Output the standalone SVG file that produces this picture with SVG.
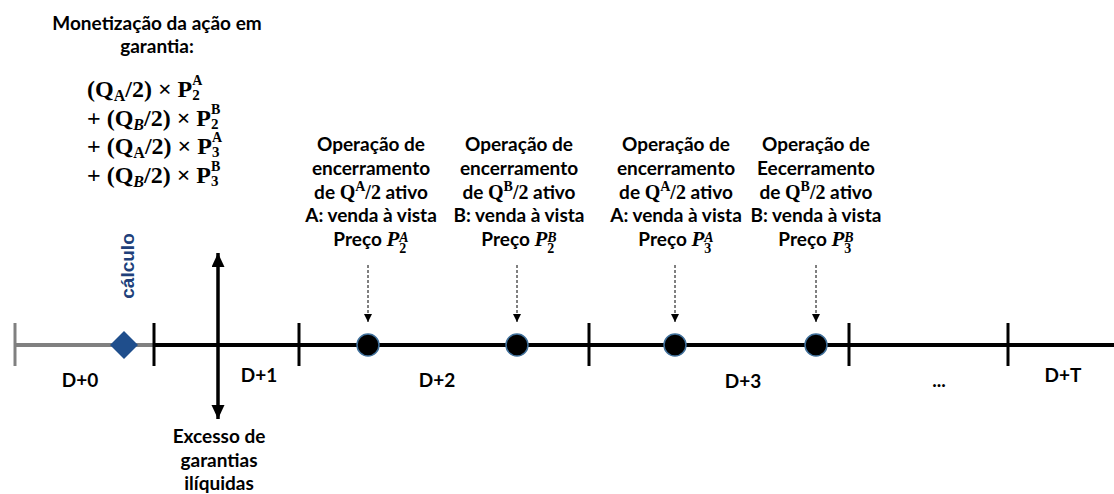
<svg xmlns="http://www.w3.org/2000/svg" width="1114" height="494" viewBox="0 0 1114 494">
<style>
.t{font-family:Lato,"Open Sans",sans-serif;font-weight:bold;font-size:19px;fill:#000}
.m{font-family:"Liberation Serif","DejaVu Serif",serif;font-weight:bold}
.mi{font-family:"Liberation Serif","DejaVu Serif",serif;font-weight:bold;font-style:italic}
.eq{font-family:"Liberation Serif","DejaVu Serif",serif;font-weight:bold;font-size:24px;fill:#000}
.tick{stroke:#000;stroke-width:3}
.dash{stroke:#000;stroke-width:1;stroke-dasharray:3 2;fill:none}
.dot{fill:#000;stroke:#41719C;stroke-width:1.5}
</style>
<defs>
<marker id="ah" markerUnits="userSpaceOnUse" markerWidth="8" markerHeight="10" refX="8" refY="4" orient="auto"><path d="M0,0 L8,4 L0,8 z" fill="#000"/></marker>
<marker id="big" markerUnits="userSpaceOnUse" markerWidth="15" markerHeight="14" refX="14" refY="6.5" orient="auto-start-reverse"><path d="M0,0 L14,6.5 L0,13 z" fill="#000"/></marker>
</defs>

<g id="heading">
<text class="t" x="157" y="30" text-anchor="middle">Monetização da ação em</text>
<text class="t" x="157" y="53" text-anchor="middle">garantia:</text>
</g>
<g id="formula">
<text class="eq" x="87" y="97">(Q<tspan font-size="16" dy="4">A</tspan><tspan dy="-4">/2) × P</tspan><tspan font-size="15" dy="3">2</tspan><tspan font-size="14" dx="-7.5" dy="-15">A</tspan></text>
<text class="eq" x="87" y="125.5">+ (Q<tspan font-size="16" dy="4" font-style="italic">B</tspan><tspan dy="-4">/2) × P</tspan><tspan font-size="15" dy="3">2</tspan><tspan font-size="14" dx="-7.5" dy="-15">B</tspan></text>
<text class="eq" x="87" y="154">+ (Q<tspan font-size="16" dy="4">A</tspan><tspan dy="-4">/2) × P</tspan><tspan font-size="15" dy="3">3</tspan><tspan font-size="14" dx="-7.5" dy="-15">A</tspan></text>
<text class="eq" x="87" y="182.5">+ (Q<tspan font-size="16" dy="4" font-style="italic">B</tspan><tspan dy="-4">/2) × P</tspan><tspan font-size="15" dy="3">3</tspan><tspan font-size="14" dx="-7.5" dy="-15">B</tspan></text>
</g>

<g id="timeline">
<line x1="15" y1="345" x2="154" y2="345" stroke="#808080" stroke-width="4"/>
<line x1="15" y1="323" x2="15" y2="366" stroke="#808080" stroke-width="3"/>
<line x1="154" y1="345" x2="1114" y2="345" stroke="#000" stroke-width="4"/>
<line class="tick" x1="154" y1="323" x2="154" y2="366"/>
<line class="tick" x1="299" y1="323" x2="299" y2="366"/>
<line class="tick" x1="589" y1="323" x2="589" y2="366"/>
<line class="tick" x1="849" y1="323" x2="849" y2="366"/>
<line class="tick" x1="1008" y1="323" x2="1008" y2="366"/>
</g>

<g id="labels">
<text class="t" x="80" y="387" text-anchor="middle">D+0</text>
<text class="t" x="259" y="382" text-anchor="middle">D+1</text>
<text class="t" x="437" y="387" text-anchor="middle">D+2</text>
<text class="t" x="743" y="388" text-anchor="middle">D+3</text>
<text class="t" x="939" y="387" text-anchor="middle">...</text>
<text class="t" x="1063" y="382" text-anchor="middle">D+T</text>
</g>

<g id="calculo">
<polygon points="124,331 138,345 124,359 110,345" fill="#1F4E8C"/>
<text x="0" y="0" transform="translate(134,266) rotate(-90)" text-anchor="middle" font-family="'Liberation Sans',Arial,sans-serif" font-weight="bold" font-size="19" fill="#203F7A">cálculo</text>
</g>

<g id="excesso">
<text class="t" x="219" y="443" text-anchor="middle">Excesso de</text>
<text class="t" x="219" y="467" text-anchor="middle">garantias</text>
<text class="t" x="219" y="490" text-anchor="middle">ilíquidas</text>
</g>

<g id="connectors">
<line x1="218" y1="253" x2="218" y2="419" stroke="#000" stroke-width="3.5" marker-start="url(#big)" marker-end="url(#big)"/>
<line class="dash" x1="368" y1="265" x2="368" y2="322" marker-end="url(#ah)"/>
<line class="dash" x1="517" y1="265" x2="517" y2="322" marker-end="url(#ah)"/>
<line class="dash" x1="675" y1="265" x2="675" y2="322" marker-end="url(#ah)"/>
<line class="dash" x1="816" y1="265" x2="816" y2="322" marker-end="url(#ah)"/>
</g>

<g id="op1">
<circle class="dot" cx="368" cy="345" r="11"/>
<text class="t" x="371" y="151" text-anchor="middle">Operação de</text>
<text class="t" x="371" y="175" text-anchor="middle">encerramento</text>
<text class="t" x="371" y="198.5" text-anchor="middle">de <tspan class="m" font-size="20">Q</tspan><tspan class="m" font-size="14" dy="-8">A</tspan><tspan class="m" font-size="20" dy="8">/2</tspan> ativo</text>
<text class="t" x="371" y="222" text-anchor="middle">A: venda à vista</text>
<text class="t" x="371" y="245.5" text-anchor="middle">Preço <tspan class="mi" font-size="21">P</tspan><tspan class="m" font-size="14" dy="7">2</tspan><tspan class="mi" font-size="14" dx="-7" dy="-11">A</tspan></text>
</g>
<g id="op2">
<circle class="dot" cx="517" cy="345" r="11"/>
<text class="t" x="519" y="151" text-anchor="middle">Operação de</text>
<text class="t" x="519" y="175" text-anchor="middle">encerramento</text>
<text class="t" x="519" y="198.5" text-anchor="middle">de <tspan class="m" font-size="20">Q</tspan><tspan class="m" font-size="14" dy="-8">B</tspan><tspan class="m" font-size="20" dy="8">/2</tspan> ativo</text>
<text class="t" x="519" y="222" text-anchor="middle">B: venda à vista</text>
<text class="t" x="519" y="245.5" text-anchor="middle">Preço <tspan class="mi" font-size="21">P</tspan><tspan class="m" font-size="14" dy="7">2</tspan><tspan class="mi" font-size="14" dx="-7" dy="-11">B</tspan></text>
</g>
<g id="op3">
<circle class="dot" cx="675" cy="345" r="11"/>
<text class="t" x="676" y="151" text-anchor="middle">Operação de</text>
<text class="t" x="676" y="175" text-anchor="middle">encerramento</text>
<text class="t" x="676" y="198.5" text-anchor="middle">de <tspan class="m" font-size="20">Q</tspan><tspan class="m" font-size="14" dy="-8">A</tspan><tspan class="m" font-size="20" dy="8">/2</tspan> ativo</text>
<text class="t" x="676" y="222" text-anchor="middle">A: venda à vista</text>
<text class="t" x="676" y="245.5" text-anchor="middle">Preço <tspan class="mi" font-size="21">P</tspan><tspan class="m" font-size="14" dy="7">3</tspan><tspan class="mi" font-size="14" dx="-7" dy="-11">A</tspan></text>
</g>
<g id="op4">
<circle class="dot" cx="816" cy="345" r="11"/>
<text class="t" x="816" y="151" text-anchor="middle">Operação de</text>
<text class="t" x="816" y="175" text-anchor="middle">Eecerramento</text>
<text class="t" x="816" y="198.5" text-anchor="middle">de <tspan class="m" font-size="20">Q</tspan><tspan class="m" font-size="14" dy="-8">B</tspan><tspan class="m" font-size="20" dy="8">/2</tspan> ativo</text>
<text class="t" x="816" y="222" text-anchor="middle">B: venda à vista</text>
<text class="t" x="816" y="245.5" text-anchor="middle">Preço <tspan class="mi" font-size="21">P</tspan><tspan class="m" font-size="14" dy="7">3</tspan><tspan class="mi" font-size="14" dx="-7" dy="-11">B</tspan></text>
</g>
</svg>
